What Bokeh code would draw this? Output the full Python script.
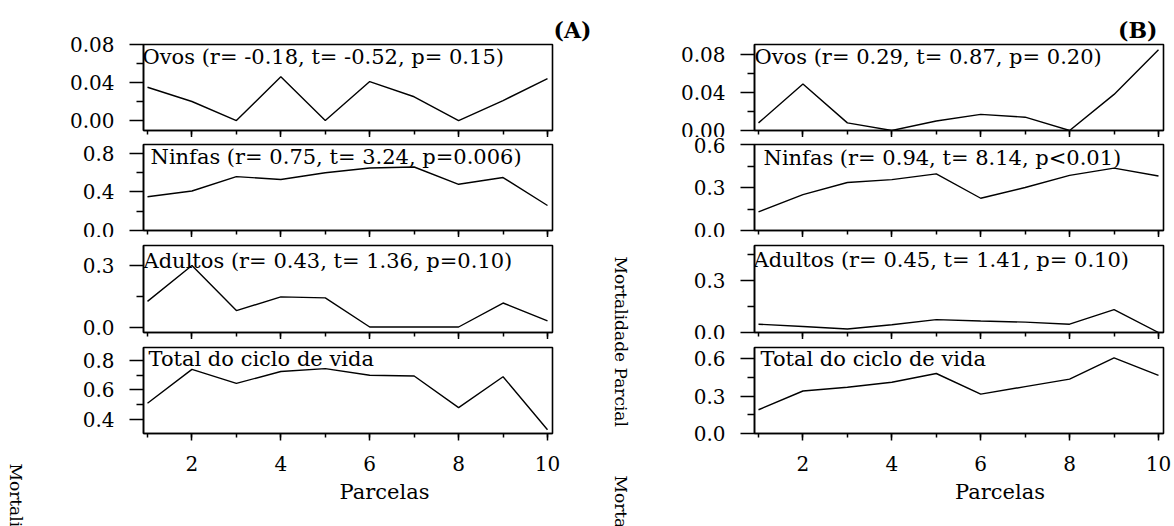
import math
from bokeh.plotting import figure
from bokeh.layouts import row, column
from bokeh.models import Label, Range1d, FixedTicker, NumeralTickFormatter
from bokeh.embed import file_html
from bokeh.resources import INLINE

# ---------------- data ----------------
parcelas = [1, 2, 3, 4, 5, 6, 7, 8, 9, 10]
x_major_ticks = [2, 4, 6, 8, 10]

a_ovos = [0.035, 0.020, 0.000, 0.046, 0.000, 0.041, 0.025, 0.000, 0.021, 0.044]
a_ninfas = [0.35, 0.41, 0.56, 0.53, 0.60, 0.65, 0.66, 0.48, 0.55, 0.26]
a_adultos = [0.125, 0.30, 0.08, 0.147, 0.142, 0.0, 0.0, 0.0, 0.117, 0.03]
a_total = [0.51, 0.74, 0.645, 0.725, 0.745, 0.70, 0.695, 0.48, 0.69, 0.33]

b_ovos = [0.008, 0.049, 0.008, 0.000, 0.010, 0.017, 0.014, 0.000, 0.038, 0.085]
b_ninfas = [0.13, 0.25, 0.335, 0.355, 0.395, 0.225, 0.30, 0.385, 0.435, 0.38]
b_adultos = [0.048, 0.035, 0.020, 0.045, 0.074, 0.066, 0.060, 0.048, 0.132, 0.000]
b_total = [0.19, 0.34, 0.37, 0.41, 0.48, 0.315, 0.375, 0.435, 0.605, 0.465]

a_titles = ["Ovos (r= -0.18, t= -0.52, p= 0.15)",
            "Ninfas (r= 0.75, t= 3.24, p=0.006)",
            "Adultos (r= 0.43, t= 1.36, p=0.10)",
            "Total do ciclo de vida"]
b_titles = ["Ovos (r= 0.29, t= 0.87, p= 0.20)",
            "Ninfas (r= 0.94, t= 8.14, p<0.01)",
            "Adultos (r= 0.45, t= 1.41, p= 0.10)",
            "Total do ciclo de vida"]

a_major = [[0.0, 0.04, 0.08], [0.0, 0.4, 0.8], [0.0, 0.3], [0.4, 0.6, 0.8]]
a_minor = [[0.02, 0.06], [0.2, 0.6], [0.15], [0.3, 0.5, 0.7]]
b_major = [[0.0, 0.04, 0.08], [0.0, 0.3, 0.6], [0.0, 0.3], [0.0, 0.3, 0.6]]
b_minor = [[0.02, 0.06], [0.15, 0.45], [0.15, 0.45], [0.15, 0.45]]
tick_formats = ["0.00", "0.0", "0.0", "0.0"]

x_label = "Parcelas"
y_label = "Mortalidade Parcial"
panel_labels = ["(A)", "(B)"]

# ---------------- layout (styles / geometry, in page pixels) ----------------
FONT = "DejaVu Serif"
FRAME_W = 409
XR = (0.91, 10.1125)
frame_tops = [44, 144, 245, 347]
frame_hs = [86, 86, 87, 86]
top_b = [44, 7, 8, 8]
bot_b = [7, 7, 7, 45]
BOT_STRIP = 48
a_yr = [(-0.0105, 0.08), (0.0, 0.8935), (-0.0268, 0.3976), (0.305, 0.888)]
b_yr = [(0.0, 0.0905), (0.0, 0.6), (0.0, 0.502), (0.0, 0.688)]
A_LEFT, B_LEFT = 143, 753
A_LB, A_RB = 115, 48
B_LB, B_RB = 76, 12
LEFT_W, MID_W = 28, 77
# (left x, vertical centre) of the in-panel texts
a_txt_pos = [(142, 56), (150, 156), (143, 260), (148, 358)]
b_txt_pos = [(753, 56), (762, 157), (752, 259), (759, 358)]
title_offsets = [-39, 6]


def dx(X, left):
    return XR[0] + (X - left) * (XR[1] - XR[0]) / FRAME_W


def dy(Y, i, yr):
    return yr[1] - (Y - frame_tops[i]) * (yr[1] - yr[0]) / frame_hs[i]


def add_text(p, x, y, text, size, align="left", angle=0.0):
    p.add_layout(Label(x=x, y=y, text=text, text_font=FONT, text_font_size=size,
                       text_align=align, text_baseline="middle", text_color="black",
                       angle=angle))


def style_axis(ax):
    ax.axis_line_color = "black"
    ax.axis_line_width = 1.5
    ax.major_tick_line_color = "black"
    ax.minor_tick_line_color = "black"
    ax.major_tick_line_width = 1.5
    ax.minor_tick_line_width = 1.5
    ax.major_tick_in = 0
    ax.minor_tick_in = 0


def make_fig(i, y, yr, majors, minors, left_b, right_b, panel=None):
    bottom = (i == 3)
    p = figure(frame_width=FRAME_W, frame_height=frame_hs[i],
               x_range=Range1d(*XR), y_range=Range1d(*yr),
               output_backend="svg", toolbar_location=None,
               min_border_left=left_b, min_border_right=right_b,
               min_border_top=top_b[i], min_border_bottom=bot_b[i])
    if panel is not None:
        text, off = panel
        p.title.text = text
        p.title.align = "right"
        p.title.offset = off
        p.title.standoff = 4
        p.title.text_font = FONT
        p.title.text_font_size = "22px"
        p.title.text_font_style = "bold"
        p.title.text_color = "black"
    else:
        p.title.visible = False
    p.line(parcelas, y, line_color="black", line_width=1.4)
    p.xgrid.visible = False
    p.ygrid.visible = False
    p.outline_line_color = "black"
    p.outline_line_width = 1.6
    p.outline_line_alpha = 1.0
    p.background_fill_color = "white"
    p.border_fill_color = "white"

    xa = p.xaxis[0]
    xa.ticker = FixedTicker(ticks=x_major_ticks, minor_ticks=parcelas)
    style_axis(xa)
    xa.major_tick_out = 7
    xa.minor_tick_out = 4
    if bottom:
        xa.major_label_text_font = FONT
        xa.major_label_text_font_size = "20px"
        xa.major_label_text_color = "black"
        xa.major_label_standoff = 15
    else:
        xa.major_label_text_font_size = "0px"
        xa.major_label_text_color = None
        xa.major_label_standoff = 0

    ya = p.yaxis[0]
    ya.ticker = FixedTicker(ticks=majors, minor_ticks=minors)
    ya.formatter = NumeralTickFormatter(format=tick_formats[i])
    style_axis(ya)
    ya.major_tick_out = 14
    ya.minor_tick_out = 7
    ya.major_label_text_font = FONT
    ya.major_label_text_font_size = "20px"
    ya.major_label_text_color = "black"
    ya.major_label_standoff = 15
    return p


def blank(width, height):
    f = figure(width=width, height=height, x_range=Range1d(0, width), y_range=Range1d(0, height),
               output_backend="svg", toolbar_location=None, x_axis_type=None, y_axis_type=None,
               min_border=0, min_border_left=0, min_border_right=0, min_border_top=0,
               min_border_bottom=0)
    f.title.visible = False
    f.outline_line_color = None
    f.xgrid.visible = False
    f.ygrid.visible = False
    f.background_fill_color = "white"
    f.border_fill_color = "white"
    return f


a_series = [a_ovos, a_ninfas, a_adultos, a_total]
b_series = [b_ovos, b_ninfas, b_adultos, b_total]
col_a_w = A_LB + FRAME_W + A_RB
col_b_w = B_LB + FRAME_W + B_RB
b_x0 = LEFT_W + col_a_w + MID_W

col_a, col_b = [], []
for i in range(4):
    pa = make_fig(i, a_series[i], a_yr[i], a_major[i], a_minor[i], A_LB, A_RB,
                  (panel_labels[0], title_offsets[0]) if i == 0 else None)
    X, Y = a_txt_pos[i]
    add_text(pa, dx(X, A_LEFT), dy(Y, i, a_yr[i]), a_titles[i], "21px")
    pb = make_fig(i, b_series[i], b_yr[i], b_major[i], b_minor[i], B_LB, B_RB,
                  (panel_labels[1], title_offsets[1]) if i == 0 else None)
    X, Y = b_txt_pos[i]
    add_text(pb, dx(X, B_LEFT), dy(Y, i, b_yr[i]), b_titles[i], "21px")
    col_a.append(pa)
    col_b.append(pb)

strip_top = 526 - BOT_STRIP
bot_a = blank(col_a_w, BOT_STRIP)
add_text(bot_a, 365 - LEFT_W, BOT_STRIP - (491 - strip_top), x_label, "21px", align="center")
bot_b_fig = blank(col_b_w, BOT_STRIP)
add_text(bot_b_fig, 976 - b_x0, BOT_STRIP - (491 - strip_top), x_label, "21px", align="center")
col_a.append(bot_a)
col_b.append(bot_b_fig)

left_fig = blank(LEFT_W, 526)
add_text(left_fig, 15, 526 - 463, y_label, "17px", angle=-math.pi / 2)
mid_fig = blank(MID_W, 526)
add_text(mid_fig, 20, 526 - 256, y_label, "17px", angle=-math.pi / 2)
add_text(mid_fig, 20, 526 - 475, y_label, "17px", angle=-math.pi / 2)

layout = row(left_fig, column(*col_a), mid_fig, column(*col_b))

open("out.html", "w").write(file_html(layout, INLINE))
